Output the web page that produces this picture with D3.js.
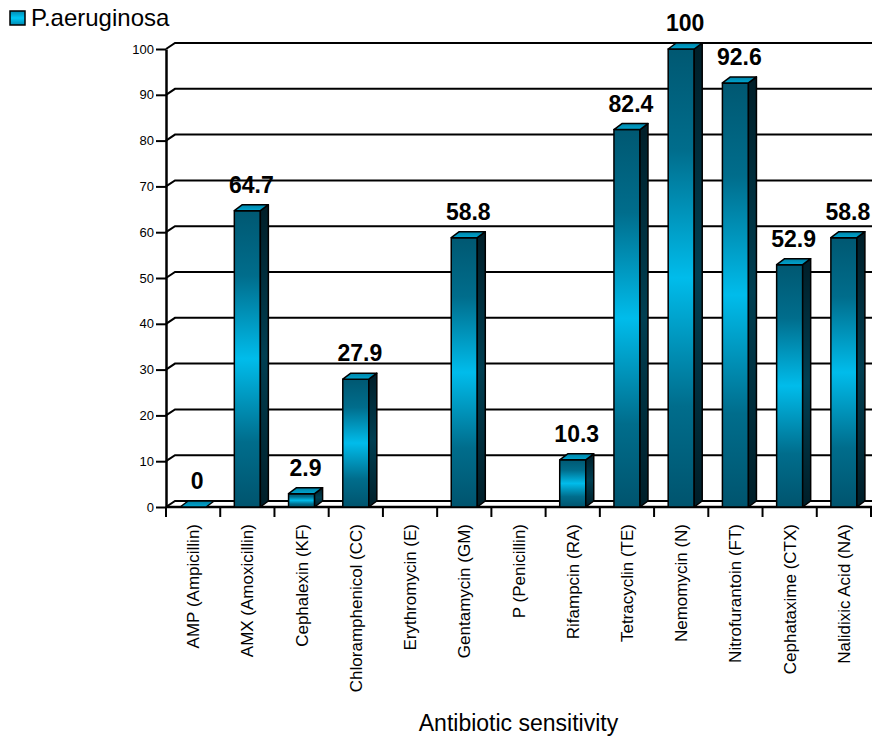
<!DOCTYPE html>
<html>
<head>
<meta charset="utf-8">
<script src="https://cdn.jsdelivr.net/npm/d3@7/dist/d3.min.js"></script>
<style>
  body { margin: 0; background: #fff; }
  svg { display: block; font-family: Arial, "Liberation Sans", Helvetica, sans-serif; }
</style>
</head>
<body>
<svg id="chart" width="872" height="742"></svg>
<script>
// Antibiotic sensitivity of P.aeruginosa (%)
const categories = [
  "AMP (Ampicillin)", "AMX (Amoxicillin)", "Cephalexin (KF)", "Chloramphenicol (CC)",
  "Erythromycin (E)", "Gentamycin (GM)", "P (Penicillin)", "Rifampcin (RA)",
  "Tetracyclin (TE)", "Nemomycin (N)", "Nitrofurantoin (FT)", "Cephataxime (CTX)",
  "Nalidixic Acid (NA)"
];
const values = [0, 64.7, 2.9, 27.9, null, 58.8, null, 10.3, 82.4, 100, 92.6, 52.9, 58.8];
const yTicks = [0, 10, 20, 30, 40, 50, 60, 70, 80, 90, 100];
const seriesName = "P.aeruginosa";
const xTitle = "Antibiotic sensitivity";

const svg = d3.select("#chart");
const W = 872;

const x = d3.scaleBand().domain(categories).range([166, 871]).padding(0);
const y = d3.scaleLinear().domain([0, 100]).range([507, 49]);

// 3D depth of the back wall and of the bars
const wallDx = 9, wallDy = 6;
const barDx = 8, barDy = 6;
const barW = x.bandwidth() * 0.48;

// gradients
const defs = svg.append("defs");
function vGrad(id, stops) {
  const g = defs.append("linearGradient").attr("id", id)
    .attr("x1", 0).attr("y1", 0).attr("x2", 0).attr("y2", 1);
  stops.forEach(([o, c]) => g.append("stop").attr("offset", o).attr("stop-color", c));
}
vGrad("front", [[0, "#005872"], [0.22, "#006d8c"], [0.5, "#00bceb"], [0.78, "#006d8c"], [1, "#00546e"]]);
vGrad("side", [[0, "#001e28"], [0.5, "#003f52"], [1, "#001e28"]]);
vGrad("topface", [[0, "#0082a6"], [1, "#00a6d0"]]);
vGrad("swatch", [[0, "#0088b0"], [0.5, "#00c8f6"], [1, "#0088b0"]]);

// gridlines with the 3D wall corner
const grid = svg.append("g").attr("fill", "none").attr("stroke", "#000").attr("stroke-width", 2);
grid.selectAll("path").data(yTicks).join("path")
  .attr("d", v => `M${x.range()[0]},${y(v)}L${x.range()[0] + wallDx},${y(v) - wallDy}H${W + 2}`);

// floor front edge
svg.append("line")
  .attr("x1", x.range()[0]).attr("x2", W + 2)
  .attr("y1", y(0)).attr("y2", y(0))
  .attr("stroke", "#000").attr("stroke-width", 2.5);

// x tick marks at category boundaries
const bounds = categories.map(c => x(c)).concat([x.range()[1]]);
svg.append("g").selectAll("line").data(bounds).join("line")
  .attr("x1", d => d).attr("x2", d => d)
  .attr("y1", y(0)).attr("y2", y(0) + 10)
  .attr("stroke", "#000").attr("stroke-width", 2);

// y axis
const yAxis = svg.append("g")
  .attr("transform", `translate(${x.range()[0]},0)`)
  .call(d3.axisLeft(y).tickValues(yTicks).tickSize(10).tickSizeOuter(0).tickPadding(2));
yAxis.select(".domain").attr("stroke-width", 2.5);
yAxis.selectAll(".tick line").attr("stroke-width", 2);
yAxis.selectAll(".tick text").attr("font-size", 13).attr("fill", "#000")
  .attr("font-family", "Arial, 'Liberation Sans', sans-serif");

// bars
const data = categories.map((c, i) => ({ c, v: values[i] })).filter(d => d.v !== null);
const bars = svg.append("g").attr("stroke", "#000").attr("stroke-width", 1.5).attr("stroke-linejoin", "round");
data.forEach(d => {
  const x0 = x(d.c) + (x.bandwidth() - barW) / 2;
  const x1 = x0 + barW;
  const yt = y(d.v), yb = y(0);
  const g = bars.append("g");
  if (yb - yt > 0.5) {
    g.append("rect").attr("x", x0).attr("y", yt).attr("width", barW).attr("height", yb - yt)
      .attr("fill", "url(#front)");
    g.append("path")
      .attr("d", `M${x1},${yt}L${x1 + barDx},${yt - barDy}L${x1 + barDx},${yb - barDy}L${x1},${yb}Z`)
      .attr("fill", "url(#side)");
  }
  g.append("path")
    .attr("d", `M${x0},${yt}L${x0 + barDx},${yt - barDy}L${x1 + barDx},${yt - barDy}L${x1},${yt}Z`)
    .attr("fill", "url(#topface)");
});

// value labels
svg.append("g").selectAll("text").data(data).join("text")
  .attr("x", d => x(d.c) + x.bandwidth() / 2 + 4)
  .attr("y", d => y(d.v) - 18)
  .attr("text-anchor", "middle")
  .attr("font-size", 23).attr("font-weight", "bold").attr("fill", "#000")
  .text(d => d.v);

// category labels
svg.append("g").selectAll("text").data(categories).join("text")
  .attr("transform", c => `translate(${x(c) + x.bandwidth() / 2 + 6},524) rotate(-90)`)
  .attr("text-anchor", "end")
  .attr("font-size", 17).attr("fill", "#000")
  .text(c => c);

// axis title
svg.append("text")
  .attr("x", (x.range()[0] + x.range()[1]) / 2).attr("y", 731)
  .attr("text-anchor", "middle").attr("font-size", 23).attr("fill", "#000")
  .text(xTitle);

// legend
const lg = svg.append("g");
lg.append("rect").attr("x", 10).attr("y", 11).attr("width", 15).attr("height", 14)
  .attr("fill", "url(#swatch)").attr("stroke", "#000").attr("stroke-width", 1.5);
lg.append("text").attr("x", 31).attr("y", 26).attr("font-size", 24).attr("fill", "#000")
  .text(seriesName);
</script>
</body>
</html>
